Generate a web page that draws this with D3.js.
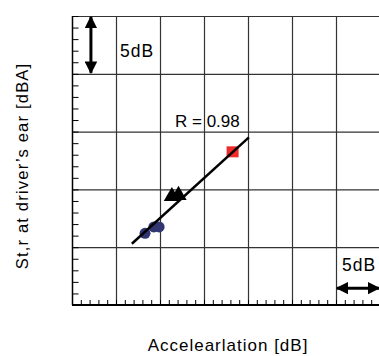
<!DOCTYPE html>
<html>
<head>
<meta charset="utf-8">
<script src="https://cdn.jsdelivr.net/npm/d3@7"></script>
<style>
  body { margin: 0; background: #fff; }
  text { font-family: "Liberation Sans", Arial, sans-serif; fill: #000; }
</style>
</head>
<body>
<div id="chart"></div>
<script>
// values, in dB (one grid cell = 5 dB)
const circlePts = [[8.3, 6.2], [9.3, 6.75], [9.9, 6.75]];
const trianglePts = [[11.35, 9.4], [12.1, 9.5]];
const squarePts = [[18.25, 13.25]];
const fitLine = [[6.8, 5.3], [20.1, 14.5]];
const rLabel = 'R = 0.98';
const xTitle = 'Accelearlation [dB]';
const yTitle = 'St,r at driver’s ear [dBA]';

const width = 379, height = 356;
const margin = { left: 72, top: 16 };
const plotW = 308, plotH = 289;

const x = d3.scaleLinear().domain([0, 35]).range([margin.left, margin.left + plotW]);
const y = d3.scaleLinear().domain([0, 25]).range([margin.top + plotH, margin.top]);

const svg = d3.select('#chart')
  .append('svg')
  .attr('width', width)
  .attr('height', height);

// grid
svg.append('g')
  .selectAll('line')
  .data(d3.range(5, 35, 5))
  .enter().append('line')
  .attr('x1', d => x(d) + 0.5).attr('x2', d => x(d) + 0.5)
  .attr('y1', y(25)).attr('y2', y(0))
  .style('stroke', '#333').style('stroke-width', '1.2px');

svg.append('g')
  .selectAll('line')
  .data(d3.range(5, 30, 5))
  .enter().append('line')
  .attr('x1', x(0)).attr('x2', x(35))
  .attr('y1', d => y(d) + 0.5).attr('y2', d => y(d) + 0.5)
  .style('stroke', '#333').style('stroke-width', '1.2px');

// minor ticks
const yAxis = d3.axisRight(y).tickValues(d3.range(0, 26, 1)).tickSize(6).tickFormat('');
svg.append('g')
  .attr('transform', `translate(${x(0) + 0.5},0)`)
  .call(yAxis)
  .call(g => g.select('.domain').remove())
  .selectAll('line').style('stroke', '#000').style('stroke-width', '1px');

const xAxis = d3.axisTop(x).tickValues(d3.range(0, 36, 1)).tickSize(5).tickFormat('');
svg.append('g')
  .attr('transform', `translate(0,${y(0)})`)
  .call(xAxis)
  .call(g => g.select('.domain').remove())
  .selectAll('line').style('stroke', '#000').style('stroke-width', '1px');

// axis lines
svg.append('line')
  .attr('x1', x(0) + 0.5).attr('x2', x(0) + 0.5)
  .attr('y1', y(25)).attr('y2', y(0))
  .style('stroke', '#000').style('stroke-width', '1.5px');
svg.append('line')
  .attr('x1', x(0)).attr('x2', x(35))
  .attr('y1', y(0)).attr('y2', y(0))
  .style('stroke', '#000').style('stroke-width', '2px');

// markers
svg.append('g')
  .selectAll('circle')
  .data(circlePts)
  .enter().append('circle')
  .attr('cx', d => x(d[0])).attr('cy', d => y(d[1]))
  .attr('r', 5.5)
  .style('fill', '#323670');

const tri = d3.symbol().type(d3.symbolTriangle).size(115);
svg.append('g')
  .selectAll('path')
  .data(trianglePts)
  .enter().append('path')
  .attr('d', tri)
  .attr('transform', d => `translate(${x(d[0])},${y(d[1])})`)
  .style('fill', '#000');

svg.append('g')
  .selectAll('rect')
  .data(squarePts)
  .enter().append('rect')
  .attr('x', d => x(d[0]) - 6).attr('y', d => y(d[1]) - 5.5)
  .attr('width', 12).attr('height', 11)
  .style('fill', '#ee2a2a');

// regression line
svg.append('path')
  .datum(fitLine)
  .attr('d', d3.line().x(d => x(d[0])).y(d => y(d[1])))
  .style('fill', 'none')
  .style('stroke', '#000')
  .style('stroke-width', '2.5px');

svg.append('text')
  .attr('x', 175).attr('y', 127)
  .style('font-size', '17px')
  .text(rLabel);

// 5dB scale arrows
const defs = svg.append('defs');
defs.append('marker')
  .attr('id', 'head')
  .attr('viewBox', '0 0 10 10')
  .attr('refX', 9).attr('refY', 5)
  .attr('markerWidth', 4.2).attr('markerHeight', 4.2)
  .attr('markerUnits', 'strokeWidth')
  .attr('orient', 'auto-start-reverse')
  .append('path')
  .attr('d', 'M0,0 L10,5 L0,10 z')
  .style('fill', '#000');

svg.append('line')
  .attr('x1', x(2.15)).attr('x2', x(2.15))
  .attr('y1', y(25) + 1).attr('y2', y(20) - 1)
  .style('stroke', '#000').style('stroke-width', '3px')
  .attr('marker-start', 'url(#head)')
  .attr('marker-end', 'url(#head)');

svg.append('text')
  .attr('x', 120).attr('y', 57)
  .style('font-size', '17.5px')
  .style('letter-spacing', '1px')
  .text('5dB');

svg.append('line')
  .attr('x1', x(30) + 1).attr('x2', x(35) - 1)
  .attr('y1', y(1.45)).attr('y2', y(1.45))
  .style('stroke', '#000').style('stroke-width', '3px')
  .attr('marker-start', 'url(#head)')
  .attr('marker-end', 'url(#head)');

svg.append('text')
  .attr('x', 342).attr('y', 271)
  .style('font-size', '17.5px')
  .style('letter-spacing', '1px')
  .text('5dB');

// axis titles
svg.append('text')
  .attr('x', 228).attr('y', 351)
  .attr('text-anchor', 'middle')
  .style('font-size', '17px')
  .style('letter-spacing', '1px')
  .text(xTitle);

svg.append('text')
  .attr('transform', 'translate(28,166) rotate(-90)')
  .attr('text-anchor', 'middle')
  .style('font-size', '16.5px')
  .style('letter-spacing', '1.2px')
  .text(yTitle);
</script>
</body>
</html>
